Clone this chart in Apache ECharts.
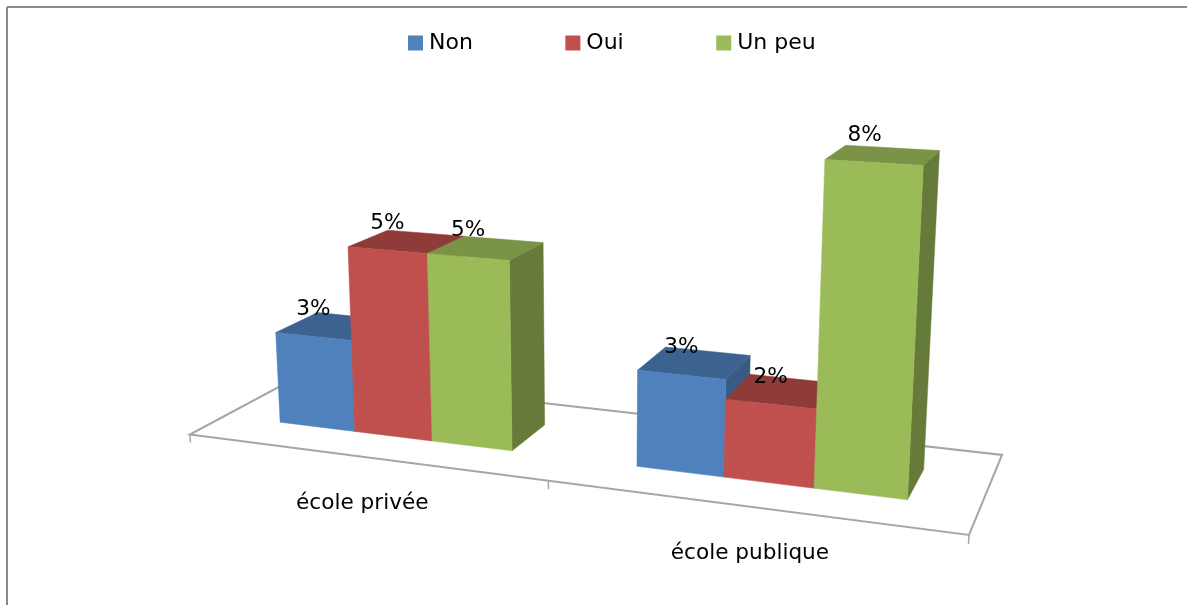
<!DOCTYPE html>
<html>
<head>
<meta charset="utf-8">
<style>
html,body{margin:0;padding:0;background:#fff;}
#chart{width:1187px;height:605px;}
</style>
<script src="https://cdn.jsdelivr.net/npm/echarts@6/dist/echarts.min.js"></script>
</head>
<body>
<div id="chart"></div>
<script>
// chart data
const categories = ['école privée', 'école publique'];
const seriesNames = ['Non', 'Oui', 'Un peu'];
const nonValues = [2.5, 2.5];
const ouiValues = [5, 2];
const unPeuValues = [5, 8];

const yMax = 9;
const depthFront = 0.3, depthBack = 0.69;
const font = '21.6px "DejaVu Sans"';

// perspective camera fitted on the picture: u along the axis, d depth, v value
function project(u, d, v) {
    const w = 1 - 0.148 * u + 0.11664 * d - 0.0055 * v;
    const x = 635.6 * u + 145 * d + 190 - 3.3 * v;
    const y = 21.3 * u - 15.1 * d + 434.5 - 38.5 * v;
    return [x / w, y / w];
}

// flat grid pixel -> u and v
function toUV(px, rect) {
    return [(px[0] - rect.x) / rect.width, (rect.y + rect.height - px[1]) / rect.height * yMax];
}

function face(points, fill) {
    return {type: 'polygon', shape: {points: points}, style: {fill: fill, stroke: fill, lineWidth: 0.5}};
}

function renderBar(shades, barIndex) {
    return function (params, api) {
        const rect = params.coordSys;
        const band = api.size([1, 0])[0] / rect.width;
        const barW = band * 2 / 9;
        const val = api.value(1);
        const centre = toUV(api.coord([api.value(0), val]), rect);
        const u0 = centre[0] + (barIndex - 1.5) * barW;
        const u1 = u0 + barW;
        const v = centre[1];
        const a = project(u0, depthFront, 0), b = project(u1, depthFront, 0);
        const c = project(u1, depthFront, v), e = project(u0, depthFront, v);
        const f = project(u1, depthBack, 0), g = project(u1, depthBack, v), h = project(u0, depthBack, v);
        const mid = project((u0 + u1) / 2, depthFront, v);
        // the tall bar's label sits a bit left of its centre in the picture
        const nudge = (barIndex === 2 && params.dataIndex === 1) ? -9 : 0;
        return {
            type: 'group',
            children: [
                face([b, f, g, c], shades[2]),
                face([e, c, g, h], shades[1]),
                face([a, b, c, e], shades[0]),
                {
                    type: 'text',
                    x: mid[0] + nudge,
                    y: mid[1] - 27,
                    style: {text: Math.round(val) + '%', font: font, fill: '#000', align: 'center', verticalAlign: 'middle'}
                }
            ]
        };
    };
}

function renderFloor(params, api) {
    const rect = params.coordSys;
    const i = params.dataIndex;
    const band = api.size([1, 0])[0] / rect.width;
    const centre = toUV(api.coord([i, 0]), rect);
    const children = [];
    if (i === 0) {
        children.push({
            type: 'polygon',
            shape: {points: [project(0, 0, 0), project(1, 0, 0), project(1, 1, 0), project(0, 1, 0)]},
            style: {fill: '#fff', stroke: '#a6a6a6', lineWidth: 2}
        });
        children.push({
            type: 'line',
            shape: {x1: project(0, 0, 0)[0], y1: project(0, 0, 0)[1], x2: project(0, 0, -0.22)[0], y2: project(0, 0, -0.22)[1]},
            style: {stroke: '#a6a6a6', lineWidth: 1.5}
        });
    }
    const tickU = centre[0] + band / 2;
    const t0 = project(tickU, 0, 0), t1 = project(tickU, 0, -0.22);
    children.push({
        type: 'line',
        shape: {x1: t0[0], y1: t0[1], x2: t1[0], y2: t1[1]},
        style: {stroke: '#a6a6a6', lineWidth: 1.5}
    });
    const lab = project(centre[0], 0, 0);
    children.push({
        type: 'text',
        x: lab[0],
        y: lab[1] + 46.5,
        style: {text: categories[i], font: font, fill: '#000', align: 'center', verticalAlign: 'middle'}
    });
    return {type: 'group', children: children};
}

function barData(values) {
    return values.map((v, i) => [i, v]);
}

const option = {
    backgroundColor: '#fff',
    animation: false,
    tooltip: {show: false},
    legend: {
        data: seriesNames,
        left: 403,
        top: 27,
        itemWidth: 15,
        itemHeight: 15,
        itemGap: 92.5,
        icon: 'rect',
        textStyle: {fontFamily: 'DejaVu Sans', fontSize: 22, color: '#000', padding: [0, 0, 0, 1]}
    },
    grid: {left: 100, right: 100, top: 50, bottom: 50},
    xAxis: {type: 'category', data: categories, show: false},
    yAxis: {type: 'value', min: 0, max: yMax, show: false},
    graphic: [
        {type: 'line', shape: {x1: 7, y1: 7, x2: 1187, y2: 7}, style: {stroke: '#8a8a8a', lineWidth: 2}},
        {type: 'line', shape: {x1: 7, y1: 7, x2: 7, y2: 605}, style: {stroke: '#8a8a8a', lineWidth: 2}}
    ],
    series: [
        {name: 'floor', type: 'custom', renderItem: renderFloor, data: barData([0, 0]), silent: true},
        {
            name: 'Non', type: 'custom', data: barData(nonValues), itemStyle: {color: '#4f81bd'},
            renderItem: renderBar(['#4f81bd', '#3c6390', '#375b85'], 0)
        },
        {
            name: 'Oui', type: 'custom', data: barData(ouiValues), itemStyle: {color: '#c0504d'},
            renderItem: renderBar(['#c0504d', '#8f3b39', '#843634'], 1)
        },
        {
            name: 'Un peu', type: 'custom', data: barData(unPeuValues), itemStyle: {color: '#9bbb59'},
            renderItem: renderBar(['#9bbb59', '#7a9346', '#667b3a'], 2)
        }
    ]
};

let myChart = echarts.init(document.getElementById('chart'));
myChart.setOption(option);
</script>
</body>
</html>
